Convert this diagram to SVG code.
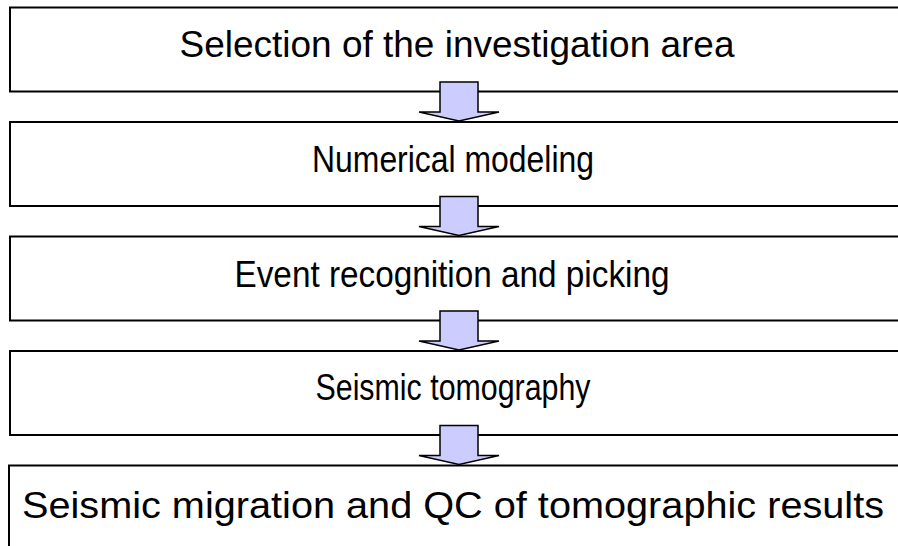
<svg xmlns="http://www.w3.org/2000/svg" width="898" height="546" viewBox="0 0 898 546">
<style>
.box{fill:#fff;stroke:#000;stroke-width:2}
.lbl{font-family:"Liberation Sans",Arial,sans-serif;font-size:37px;fill:#000;text-anchor:middle}
.arr{fill:#ccccff;stroke:#000;stroke-width:1.5;stroke-linejoin:miter}
</style>
<rect width="898" height="546" fill="#fff"/>
<g id="n1"><rect class="box" x="10" y="7.5" width="900" height="84"/><text class="lbl" x="457" y="57" textLength="555" lengthAdjust="spacingAndGlyphs">Selection of the investigation area</text></g>
<g id="n2"><rect class="box" x="10" y="122" width="900" height="84"/><text class="lbl" x="453" y="172" textLength="282" lengthAdjust="spacingAndGlyphs">Numerical modeling</text></g>
<g id="n3"><rect class="box" x="10" y="236.5" width="900" height="84"/><text class="lbl" x="452" y="287" textLength="435" lengthAdjust="spacingAndGlyphs">Event recognition and picking</text></g>
<g id="n4"><rect class="box" x="10" y="351" width="900" height="84"/><text class="lbl" x="453" y="400" textLength="275" lengthAdjust="spacingAndGlyphs">Seismic tomography</text></g>
<g id="n5"><rect class="box" x="9" y="465.5" width="900" height="90"/><text class="lbl" x="453" y="518" textLength="862" lengthAdjust="spacingAndGlyphs">Seismic migration and QC of tomographic results</text></g>
<g id="connectors">
<path class="arr" d="M440,82 H478 V112 H499 L459,121 L419,112 H440 Z"/>
<path class="arr" d="M440,196.5 H478 V226.5 H499 L459,235.5 L419,226.5 H440 Z"/>
<path class="arr" d="M440,311 H478 V341 H499 L459,350 L419,341 H440 Z"/>
<path class="arr" d="M440,425.5 H478 V455.5 H499 L459,464.5 L419,455.5 H440 Z"/>
</g>
</svg>
